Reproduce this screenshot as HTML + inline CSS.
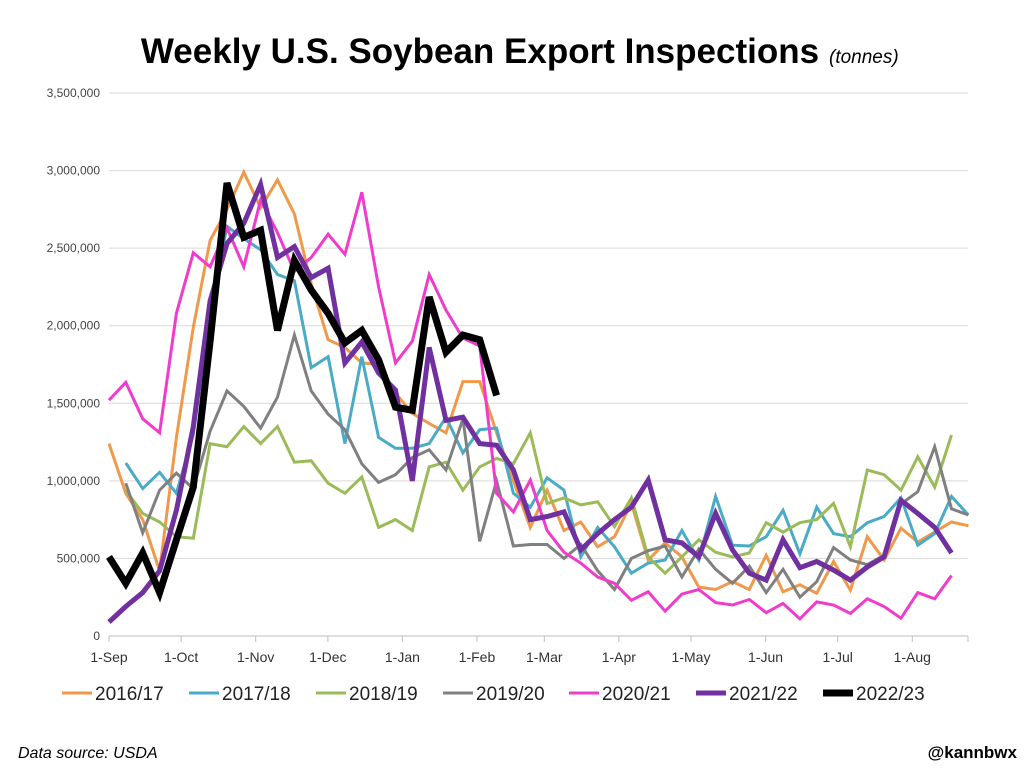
<!DOCTYPE html>
<html><head><meta charset="utf-8"><style>
body{margin:0;background:#fff;font-family:"Liberation Sans",Arial,sans-serif;}
svg{display:block}
</style></head><body>
<svg id="chart" width="1035" height="772" xmlns="http://www.w3.org/2000/svg" font-family="Liberation Sans, Arial, sans-serif">
<rect width="1035" height="772" fill="#fff"/>
<text x="480" y="63" text-anchor="middle" font-size="35" font-weight="bold" fill="#000">Weekly U.S. Soybean Export Inspections</text>
<text x="829" y="63" font-size="19" font-style="italic" fill="#000">(tonnes)</text>
<g id="grid"></g>
<g id="yticks"></g>
<g id="xticks"></g>
<g id="series"></g>
<g id="legend"></g>
<text x="18" y="758" font-size="16" font-style="italic" fill="#000">Data source: USDA</text>
<text x="1017" y="758" text-anchor="end" font-size="17" font-weight="bold" fill="#000">@kannbwx</text>
</svg>
<script>
const yTicks=[0,500000,1000000,1500000,2000000,2500000,3000000,3500000];
const monthLabels=["1-Sep","1-Oct","1-Nov","1-Dec","1-Jan","1-Feb","1-Mar","1-Apr","1-May","1-Jun","1-Jul","1-Aug"];
const monthDays=[0,30,61,91,122,153,181,212,242,273,303,334];
const seriesNames=["2016/17","2017/18","2018/19","2019/20","2020/21","2021/22","2022/23"];
const s1617=[1240,920,750,420,1280,1990,2550,2750,2990,2760,2940,2720,2270,1910,1860,1760,1750,1565,1435,1370,1310,1640,1640,1310,1000,700,940,680,735,575,640,855,490,600,510,315,300,350,300,520,285,330,275,480,295,640,490,695,605,670,735,710];
const s1718=[null,1115,950,1055,920,1300,2100,2640,2560,2490,2330,2290,1730,1800,1240,1800,1280,1210,1210,1240,1410,1180,1330,1340,920,830,1020,940,510,700,575,405,470,490,680,490,900,585,580,640,810,530,830,660,640,730,770,890,585,660,900,780];
const s1819=[null,940,790,735,640,630,1240,1220,1350,1240,1350,1120,1130,985,920,1025,700,750,680,1090,1120,940,1090,1145,1110,1310,855,890,845,865,705,890,510,405,510,620,540,510,535,730,670,730,750,855,575,1070,1040,940,1155,960,1295];
const s1920=[null,985,665,940,1050,950,1320,1580,1480,1340,1540,1940,1580,1430,1330,1110,990,1040,1150,1200,1070,1400,610,1000,580,590,590,500,590,420,300,500,550,580,380,560,430,340,450,280,430,250,350,570,490,460,520,850,930,1220,820,780];
const s2021=[1520,1635,1400,1310,2080,2470,2380,2630,2380,2810,2600,2350,2440,2590,2460,2860,2250,1760,1900,2330,2100,1920,1870,920,800,1005,680,540,470,380,340,230,285,160,270,300,215,200,235,150,210,110,220,200,145,240,190,115,280,240,390];
const s2122=[90,190,280,420,810,1350,2160,2530,2660,2910,2440,2510,2310,2370,1760,1895,1695,1585,1000,1860,1390,1410,1240,1230,1070,750,770,800,555,660,750,830,1005,620,600,510,790,555,405,360,620,440,480,425,360,445,510,875,790,700,535];
const s2223=[510,340,535,280,620,960,1900,2920,2570,2615,1970,2420,2230,2080,1890,1970,1780,1475,1455,2185,1830,1940,1910,1550];
const allSeries=[s1617,s1718,s1819,s1920,s2021,s2122,s2223];
const colors=["#f0994a","#4aabc6","#9bbb59","#808080","#f03ccd","#7030a0","#000000"];
const widths=[3,3,3,3,3,5,7];
const NS="http://www.w3.org/2000/svg";
const x0=109,pxDay=2.405,weekStep=16.85;
const yScale=v=>636-v/3500000*543;
const xWeek=i=>x0+i*weekStep;
const xDay=d=>x0+d*pxDay;
function mk(tag,attrs,parent){const e=document.createElementNS(NS,tag);for(const k in attrs)e.setAttribute(k,attrs[k]);parent.appendChild(e);return e;}
const grid=document.getElementById('grid'),yt=document.getElementById('yticks'),xt=document.getElementById('xticks');
yTicks.forEach(v=>{
  if(v>0){const l=mk('line',{x1:x0,x2:968,y1:yScale(v),y2:yScale(v),stroke:'#d9d9d9','stroke-width':1},grid);
  
  }
  const t=mk('text',{x:100,y:yScale(v)+4,'text-anchor':'end','font-size':12,fill:'#444'},yt);
  
  
  t.textContent=v.toLocaleString('en-US');
});
const ax=mk('line',{x1:x0,x2:968,y1:636,y2:636,stroke:'#bfbfbf','stroke-width':1},xt);


monthLabels.forEach((m,i)=>{
  const x=xDay(monthDays[i]);
  const tk=mk('line',{x1:x,x2:x,y1:636,y2:642,stroke:'#bfbfbf'},xt);
  
  
  const t=mk('text',{x:x,y:662,'text-anchor':'middle','font-size':14,fill:'#333'},xt);
  
  
  t.textContent=m;
});
const tk2=mk('line',{x1:968,x2:968,y1:636,y2:642,stroke:'#bfbfbf'},xt);


const sg=document.getElementById('series');
allSeries.forEach((arr,si)=>{
  let d='';let started=false;
  arr.forEach((v,i)=>{if(v==null){return;}d+=(started?'L':'M')+xWeek(i).toFixed(1)+','+yScale(v*1000).toFixed(1);started=true;});
  const p=mk('path',{d:d,fill:'none',stroke:colors[si],'stroke-width':widths[si],'stroke-linejoin':'miter','stroke-linecap':'butt'},sg);
  
  
});
const lg=document.getElementById('legend');
const lx=[62,189,316,443,569,696,823];
seriesNames.forEach((n,i)=>{
  const g=mk('g',{},lg);
  
  
  mk('line',{x1:lx[i],x2:lx[i]+30,y1:693,y2:693,stroke:colors[i],'stroke-width':widths[i]},g);
  const t=mk('text',{x:lx[i]+33,y:700,'font-size':19,fill:'#222'},g);
  t.textContent=n;
});
</script>
</body></html>
